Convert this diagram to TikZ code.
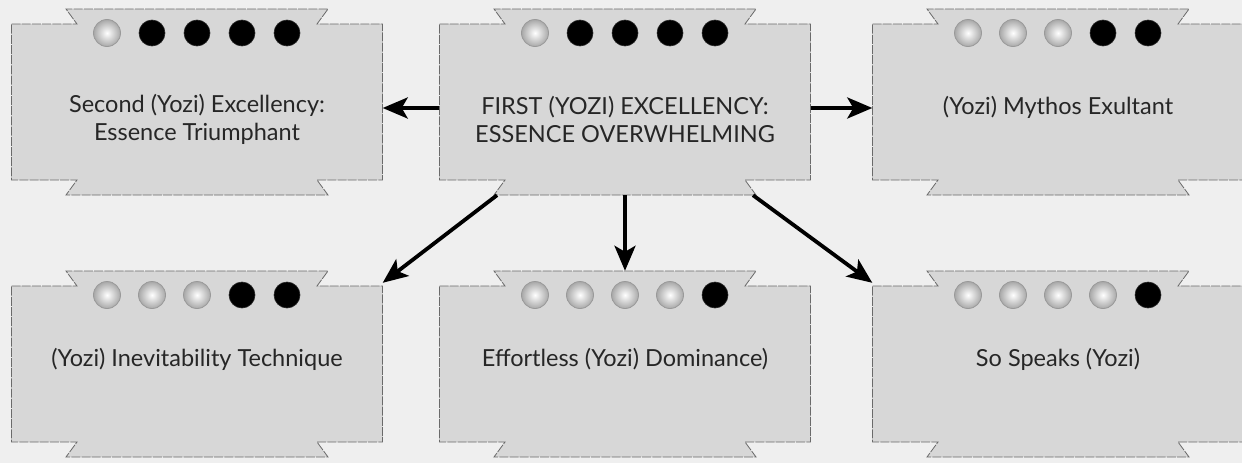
\documentclass[tikz,border=0pt]{standalone}
\usepackage{fontspec}
\setmainfont{Lato}
\usetikzlibrary{arrows.meta, backgrounds, shadings}
\definecolor{pagebg}  {HTML}{EFEFEF}
\definecolor{boxfill} {HTML}{D7D7D7}
\definecolor{boxline} {HTML}{6A6A6A}
\definecolor{captxt}  {HTML}{262626}
\definecolor{silver}  {HTML}{A8A8A8}

\begin{document}
\begin{tikzpicture}[
    x=1pt, y=-1pt,
    every node/.style={font=\fontsize{23.5}{28}\selectfont, text=captxt},
    exc/.style={
        draw=none, rectangle,
        minimum width=371pt, minimum height=186pt,
        inner sep=0pt
    },
    capt/.style={align=center, text=captxt},
    arrow/.style={-{Stealth[length=25pt, width=21pt, inset=6pt]},
        line width=3.8pt, draw=black},
    outline/.style={fill=boxfill, draw=boxline, line width=0.8pt,
        dash pattern=on 9pt off 1.2pt},
    dotsilver/.style={inner color=white, outer color=silver,
        draw=gray!80, line width=0.8pt},
    dotblack/.style={fill=black, draw=black!85, line width=0.6pt}
]

\useasboundingbox (0,0) rectangle (1242,463);

% === TOP ROW ===
\node[exc, label={[capt, yshift=-17pt]center:{Second (Yozi) Excellency:\\Essence Triumphant}}]
    (second) at (197,102) {};

\node[exc, label={[capt, yshift=-17pt]center:{FIRST (YOZI) EXCELLENCY:\\ESSENCE OVERWHELMING}}]
    (first) at (625,102) {};

\node[exc, label={[capt, yshift=-5pt]center:{(Yozi) Mythos Exultant}}]
    (mythos) at (1058,102) {};

% === BOTTOM ROW ===
\node[exc, label={[capt, yshift=5pt]center:{(Yozi) Inevitability Technique}}]
    (inev) at (197,364) {};

\node[exc, label={[capt, yshift=5pt]center:{Effortless (Yozi) Dominance)}}]
    (effort) at (625,364) {};

\node[exc, label={[capt, yshift=5pt]center:{So Speaks (Yozi)}}]
    (speaks) at (1058,364) {};

% ── BACKGROUND, BOX OUTLINES AND DOTS ──────────────────────────
\begin{scope}[on background layer]
    \fill[pagebg] (0,0) rectangle (1242,463);
    \foreach \b/\s in {second/1, first/1, mythos/3, inev/3, effort/4, speaks/4}{
        \begin{scope}[shift={(\b.center)}]
            \draw[outline] (-185.5,-78) -- (-120,-78) -- (-131,-93) -- (131,-93)
                -- (120,-78) -- (185.5,-78) -- (185.5,78) -- (120,78)
                -- (131,93) -- (-131,93) -- (-120,78) -- (-185.5,78) -- cycle;
            \foreach \i in {1,...,\s}
                \shadedraw[dotsilver] ({(\i-3)*45},-69) circle (13.5pt);
            \pgfmathtruncatemacro\nb{\s+1}
            \foreach \i in {\nb,...,5}
                \filldraw[dotblack] ({(\i-3)*45},-69) circle (13pt);
        \end{scope}
    }
\end{scope}

% ── ARROWS ─────────────────────────────────────────────────────
\draw[arrow] ([yshift=-6pt]first.west) -- ([yshift=-6pt]second.east);
\draw[arrow] ([yshift=-6pt]first.east) -- ([yshift=-6pt]mythos.west);
\draw[arrow] ([xshift=-128pt]first.south) -- ([yshift=-12pt]inev.north east);
\draw[arrow] (first.south) -- (effort.north);
\draw[arrow] ([xshift=128pt]first.south) -- ([yshift=-12pt]speaks.north west);

\end{tikzpicture}
\end{document}
